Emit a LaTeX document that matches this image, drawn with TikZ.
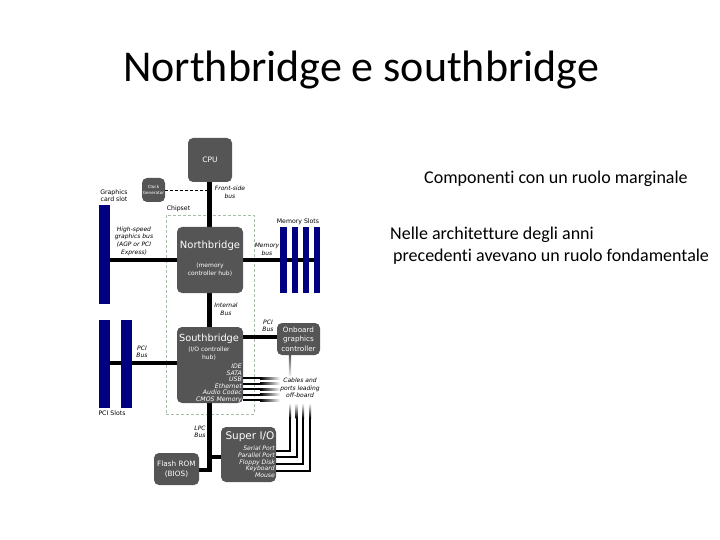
\documentclass[tikz,border=0pt]{standalone}
\usepackage{fontspec}
\setmainfont[Ligatures=NoCommon]{Carlito}
\newfontfamily\diagfont{DejaVu Sans}
\definecolor{chipgray}{HTML}{555555}
\definecolor{slotblue}{HTML}{000080}
\definecolor{chipsetgreen}{HTML}{A8BCA8}
\usetikzlibrary{positioning,backgrounds}
\begin{document}
\begin{tikzpicture}[
  x=1pt,y=-1pt,
  chip/.style={fill=chipgray,rounded corners=5pt,text=white,inner sep=0pt,align=center},
  chiptext/.style={text=white,inner sep=0pt,align=center},
  slot/.style={fill=slotblue,inner sep=0pt},
  lbl/.style={inner sep=0pt,align=center,font=\diagfont\fontsize{6.2}{7.6}\selectfont},
  ilbl/.style={lbl,font=\diagfont\itshape\fontsize{6}{7.6}\selectfont},
  portlbl/.style={chiptext,align=right,anchor=north east,font=\diagfont\itshape\fontsize{6.2}{6.5}\selectfont},
  bus/.style={line width=4pt,black},
  widebus/.style={line width=5pt,black},
  cable/.style={line width=2pt,black},
  slide/.style={inner sep=0pt,anchor=base west,font=\fontsize{18}{22}\selectfont}
]
  \useasboundingbox (0,0) rectangle (720,540);
  % slide text
  \node[inner sep=0pt,anchor=base west,font=\fontsize{44}{52}\selectfont] (title) at (123,82) {Northbridge e southbridge};
  \node[slide] (line1) at (424,184) {Componenti con un ruolo marginale};
  \node[slide] (line2) at (390,239.5) {Nelle architetture degli anni};
  \node[slide] (line3) at (393,261.5) {precedenti avevano un ruolo fondamentale};

  % chips
  \node[chip,minimum width=44pt,minimum height=44pt,font=\diagfont\fontsize{7.5}{9}\selectfont] (cpu) at (210,160) {CPU};
  \node[chip,minimum width=23pt,minimum height=24pt,font=\diagfont\fontsize{4.2}{6}\selectfont] (clock) at (153.5,190) {Clock\\Generator};
  \node[chip,minimum width=66pt,minimum height=66pt] (north) at (210,260) {};
  \node[chiptext,font=\diagfont\fontsize{10}{12}\selectfont] (northname) at (210,246) {Northbridge};
  \node[chiptext,font=\diagfont\fontsize{6}{8}\selectfont] (northsub) at (210,270) {(memory\\controller hub)};
  \node[chip,minimum width=66pt,minimum height=76pt] (south) at (210,365) {};
  \node[chiptext,font=\diagfont\fontsize{9.8}{12}\selectfont] (southname) at (209,339) {Southbridge};
  \node[chiptext,font=\diagfont\fontsize{6}{8}\selectfont] (southsub) at (209,354) {(I/O controller\\hub)};
  \node[portlbl] (southports) at (242,364) {IDE\\SATA\\USB\\Ethernet\\Audio Codec\\CMOS Memory};
  \node[chip,minimum width=43pt,minimum height=32pt,font=\diagfont\fontsize{7.2}{9.5}\selectfont] (onboard) at (298.5,339) {Onboard\\graphics\\controller};
  \node[chip,minimum width=55pt,minimum height=55pt] (superio) at (248.5,454.5) {};
  \node[chiptext,font=\diagfont\fontsize{10.5}{12}\selectfont] (superioname) at (250,437) {Super I/O};
  \node[portlbl,font=\diagfont\itshape\fontsize{6.1}{6.7}\selectfont] (superports) at (275,446) {Serial Port\\Parallel Port\\Floppy Disk\\Keyboard\\Mouse};
  \node[chip,minimum width=45pt,minimum height=32pt,font=\diagfont\fontsize{7.3}{9.5}\selectfont] (flash) at (176.5,469) {Flash ROM\\(BIOS)};

  % slots
  \node[slot,minimum width=11pt,minimum height=99pt] (gfxslot) at (104.5,254.5) {};
  \node[slot,minimum width=11pt,minimum height=88pt] (pcione) at (104.5,364) {};
  \node[slot,minimum width=11pt,minimum height=88pt] (pcitwo) at (126.5,364) {};
  \foreach \i/\xpos in {1/283.5,2/295,3/306,4/317}
    \node[slot,minimum width=6.5pt,minimum height=66pt] (mem\i) at (\xpos,260) {};

  % buses
  \begin{scope}[on background layer]
    \node[draw=chipsetgreen,densely dashed,line width=0.6pt,minimum width=88pt,minimum height=199pt,inner sep=0pt] (chipset) at (210,314.5) {};
    \draw[widebus] ([xshift=-1pt]cpu.south) -- ([xshift=-1pt]north.north);
    \draw[densely dashed,thin] (clock.east) -- ([xshift=-1pt]cpu.south |- clock.east);
    \draw[bus] (gfxslot.east |- north.west) -- (north.west);
    \draw[bus] (north.east) -- (mem4.center |- north.east);
    \draw[widebus] ([xshift=-1pt]north.south) -- ([xshift=-1pt]south.north);
    \draw[bus,line width=3.5pt] (pcione.center |- 0,363) -- (south.west |- 0,363);
    \draw[bus] (south.east |- 0,337) -- (onboard.west |- 0,337);
    \coordinate (lpc) at (209,470);
    \draw[widebus] ([xshift=-1pt]south.south) -- (lpc);
    \draw[bus] ([xshift=2.5pt]lpc) -- (flash.east |- lpc);
    \draw[bus] (lpc |- 0,457) -- (superio.west |- 0,457);
  \end{scope}

  % cables leaving the southbridge
  \foreach \ypos in {378,383.5,389,394.5,400}{
    \draw[cable] (south.east |- 0,\ypos) -- (260,\ypos);
    \shade[left color=black,right color=white] (260,\ypos-1) rectangle (280,\ypos+1);
  }
  % cables leaving super i/o
  \foreach \ypos/\xpos in {451/290,457/296.5,463.5/303,470.5/310}{
    \draw[cable] (superio.east |- 0,\ypos) -| (\xpos,418);
    \shade[top color=white,bottom color=black] (\xpos-1,403) rectangle (\xpos+1,418);
  }
  % cable leaving the onboard controller
  \shade[top color=chipgray,bottom color=white] (288.8,355) rectangle (291.2,378);

  % labels
  \node[lbl] (gfxlbl) at (114,195.5) {Graphics\\card slot};
  \node[ilbl] (fsblbl) at (230,192) {Front-side\\bus};
  \node[lbl] (chipsetlbl) at (178.5,209) {Chipset};
  \node[ilbl] (hslbl) at (134,241) {High-speed\\graphics bus\\(AGP or PCI\\Express)};
  \node[lbl] (memslotlbl) at (298,222) {Memory Slots};
  \node[ilbl] (membuslbl) at (267,249.5) {Memory\\bus};
  \node[ilbl] (intbuslbl) at (226,309) {Internal\\Bus};
  \node[ilbl] (pcibuslbl) at (142,352) {PCI\\Bus};
  \node[lbl] (pcislotlbl) at (112,413) {PCI Slots};
  \node[ilbl] (pcibustwo) at (268,326) {PCI\\Bus};
  \node[ilbl] (cablelbl) at (300,388) {Cables and\\ports leading\\off-board};
  \node[ilbl] (lpclbl) at (200,432) {LPC\\Bus};
\end{tikzpicture}
\end{document}
